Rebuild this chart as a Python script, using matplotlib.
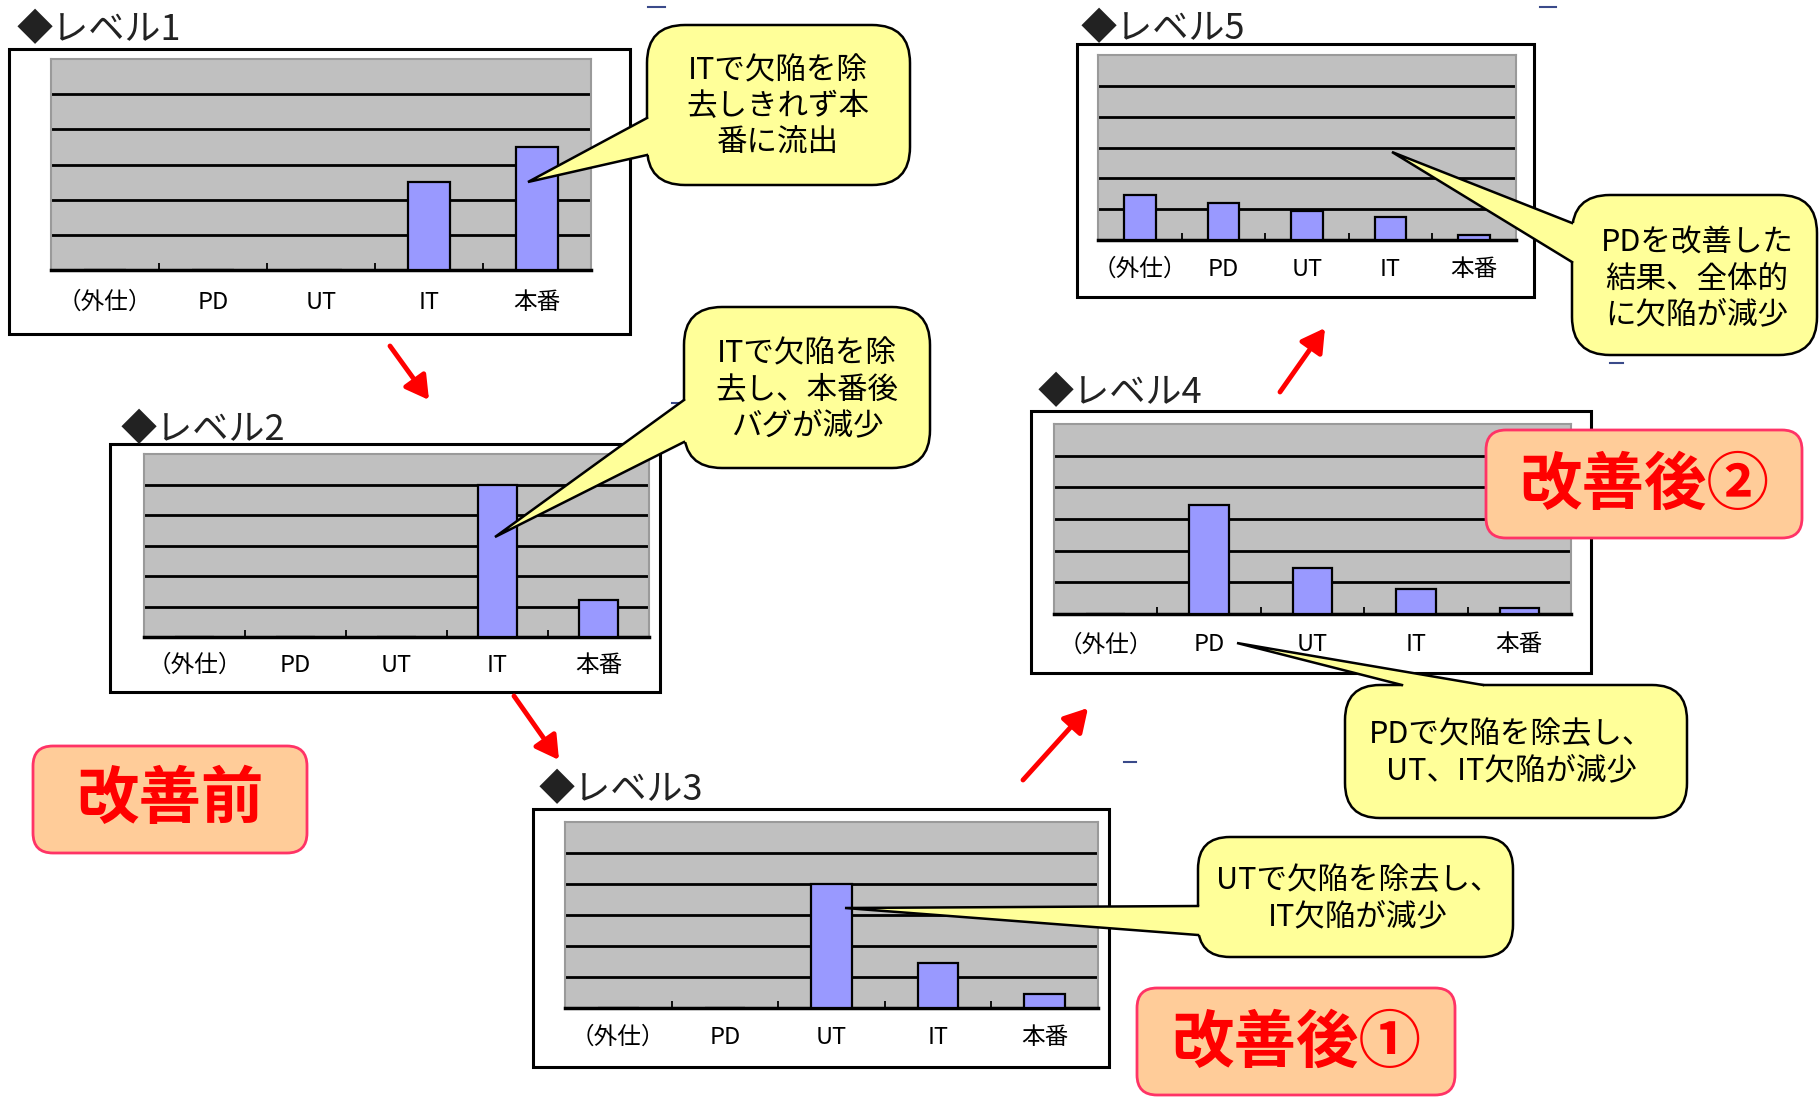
import numpy as np
import matplotlib
matplotlib.use('Agg')
import matplotlib.pyplot as plt
from matplotlib.patches import Rectangle, FancyBboxPatch, Polygon, FancyArrowPatch
from matplotlib.lines import Line2D

plt.rcParams['font.family'] = ['Noto Sans CJK JP', 'DejaVu Sans']

# ---------------- data ----------------
categories = ['（外仕）', 'PD', 'UT', 'IT', '本番']
level_titles = ['◆レベル1', '◆レベル2', '◆レベル3', '◆レベル4', '◆レベル5']
level1 = [0, 0, 0, 2.5, 3.5]
level2 = [0, 0, 0, 5.0, 1.2]
level3 = [0, 0, 4.0, 1.45, 0.45]
level4 = [0, 3.45, 1.45, 0.78, 0.18]
level5 = [1.45, 1.2, 0.95, 0.75, 0.15]
grid_levels = [1, 2, 3, 4, 5]

callout_texts = [
    'ITで欠陥を除\n去しきれず本\n番に流出',
    'ITで欠陥を除\n去し、本番後\nバグが減少',
    'UTで欠陥を除去し、\nIT欠陥が減少',
    'PDで欠陥を除去し、\nUT、IT欠陥が減少',
    'PDを改善した\n結果、全体的\nに欠陥が減少',
]
stage_labels = ['改善前', '改善後①', '改善後②']

# ---------------- layout (pixels) ----------------
W, H = 1819, 1098
fig = plt.figure(figsize=(W / 100, H / 100), dpi=100)
fig.patch.set_facecolor('white')

bg = fig.add_axes([0, 0, 1, 1], zorder=0)
bg.set_xlim(0, W); bg.set_ylim(H, 0); bg.axis('off')
ov = fig.add_axes([0, 0, 1, 1], zorder=5)
ov.set_xlim(0, W); ov.set_ylim(H, 0); ov.axis('off')


def frac(r):
    x0, y0, x1, y1 = r
    return [x0 / W, 1 - y1 / H, (x1 - x0) / W, (y1 - y0) / H]


charts = [
    dict(vals=level1, box=(9, 49, 630, 334), plot=(51, 59, 591, 270), title=(17, 30), pad=15),
    dict(vals=level2, box=(110, 444, 660, 692), plot=(144, 454, 649, 637), title=(121, 430), pad=12),
    dict(vals=level3, box=(533, 809, 1109, 1067), plot=(565, 822, 1098, 1008), title=(539, 790), pad=13),
    dict(vals=level4, box=(1031, 411, 1591, 673), plot=(1054, 424, 1571, 614), title=(1038, 393), pad=14),
    dict(vals=level5, box=(1077, 44, 1534, 297), plot=(1098, 55, 1516, 240), title=(1081, 29), pad=13),
]

for c, ttl in zip(charts, level_titles):
    x0, y0, x1, y1 = c['box']
    bg.add_patch(Rectangle((x0, y0), x1 - x0, y1 - y0, fc='white', ec='black', lw=2.2))
    ov.text(c['title'][0], c['title'][1], ttl, ha='left', va='center',
            fontsize=26, color='#222222')
    ax = fig.add_axes(frac(c['plot']), zorder=1)
    ax.set_facecolor('#c0c0c0')
    ax.bar(categories, c['vals'], width=0.38, color='#9999ff', edgecolor='black',
           linewidth=1.6, zorder=3)
    ax.set_xlim(-0.5, 4.5)
    ax.set_ylim(0, 6)
    ax.set_yticks(grid_levels)
    ax.yaxis.grid(True, color='black', lw=2.0)
    ax.xaxis.grid(False)
    ax.set_axisbelow(True)
    ax.tick_params(axis='y', length=0, labelleft=False)
    ax.set_xticks(np.arange(-0.5, 5, 1), minor=True)
    ax.tick_params(axis='x', which='major', length=0, pad=c['pad'], labelsize=17,
                   labelcolor='#000000')
    ax.tick_params(axis='x', which='minor', length=5, width=1.3, direction='in',
                   color='black')
    for s in ['top', 'left', 'right']:
        ax.spines[s].set_color('#9a9a9a')
        ax.spines[s].set_linewidth(1.5)
    ax.spines['bottom'].set_color('black')
    ax.spines['bottom'].set_linewidth(2.5)

# ---------------- callouts ----------------
callouts = [
    dict(rect=(647, 25, 910, 185), r=38, base=((647, 118), (647, 155)), inset=(5, 0),
         tip=(528, 182), center=(778, 107)),
    dict(rect=(684, 307, 930, 468), r=38, base=((684, 400), (684, 442)), inset=(5, 0),
         tip=(495, 537), center=(807, 390)),
    dict(rect=(1198, 837, 1513, 957), r=32, base=((1198, 906), (1198, 935)), inset=(5, 0),
         tip=(845, 908), center=(1358, 899)),
    dict(rect=(1345, 685, 1687, 818), r=35, base=((1402, 685), (1483, 685)), inset=(0, 5),
         tip=(1237, 643), center=(1511, 753)),
    dict(rect=(1572, 195, 1817, 355), r=38, base=((1572, 223), (1572, 262)), inset=(5, 0),
         tip=(1392, 152), center=(1697, 279)),
]

for c, txt in zip(callouts, callout_texts):
    x0, y0, x1, y1 = c['rect']
    ov.add_patch(FancyBboxPatch((x0, y0), x1 - x0, y1 - y0,
                                boxstyle=f"round,pad=0,rounding_size={c['r']}",
                                fc='#ffff99', ec='black', lw=1.8, zorder=10))
    (ax_, ay_), (bx_, by_) = c['base']
    dx, dy = c['inset']
    ov.add_patch(Polygon([(ax_, ay_), (ax_ + dx, ay_ + dy), (bx_ + dx, by_ + dy), (bx_, by_), c['tip']],
                         closed=True, fc='#ffff99', ec='none', zorder=11))
    ov.add_line(Line2D([ax_, c['tip'][0], bx_], [ay_, c['tip'][1], by_], color='black',
                       lw=1.8, zorder=12, solid_joinstyle='miter'))
    ov.text(c['center'][0], c['center'][1], txt, ha='center', va='center', fontsize=22,
            linespacing=1.22, color='black', zorder=13)

# ---------------- stage labels ----------------
stages = [
    dict(rect=(33, 746, 307, 853), center=(170, 800)),
    dict(rect=(1137, 988, 1455, 1095), center=(1296, 1043)),
    dict(rect=(1486, 430, 1802, 538), center=(1644, 485)),
]
for s, txt in zip(stages, stage_labels):
    x0, y0, x1, y1 = s['rect']
    ov.add_patch(FancyBboxPatch((x0, y0), x1 - x0, y1 - y0,
                                boxstyle="round,pad=0,rounding_size=20",
                                fc='#ffcc99', ec='#ff3366', lw=2.0, zorder=14))
    ov.text(s['center'][0], s['center'][1], txt, ha='center', va='center', fontsize=45,
            fontweight='bold', color='#ff0000', zorder=15)

# ---------------- arrows ----------------
arrows = [((390, 346), (429, 400)), ((514, 696), (559, 760)),
          ((1023, 780), (1088, 708)), ((1280, 392), (1325, 328))]
for a, b in arrows:
    ov.add_patch(FancyArrowPatch(a, b, arrowstyle='-|>,head_length=0.7,head_width=0.4',
                                 mutation_scale=20, lw=3.5, color='#ff0000',
                                 shrinkA=0, shrinkB=0, zorder=16))

# small stray marks
for (xa, xb, y) in [(648, 665, 7), (1540, 1556, 7), (672, 684, 403), (1610, 1623, 363), (1124, 1136, 762)]:
    ov.add_line(Line2D([xa, xb], [y, y], color='#3a4a8a', lw=1.5, zorder=2))

fig.savefig('out.png', dpi=100, facecolor='white')
